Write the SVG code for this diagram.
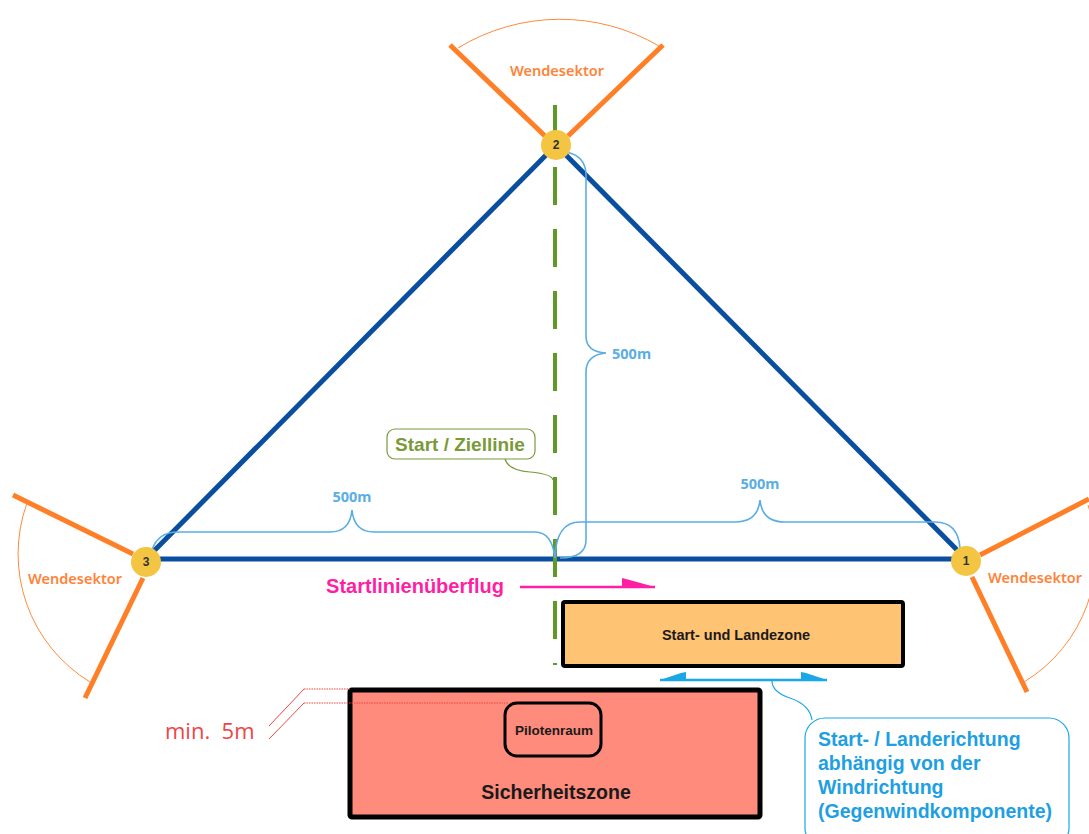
<svg xmlns="http://www.w3.org/2000/svg" width="1089" height="834" viewBox="0 0 1089 834">
<style>
.tri{stroke:#0a4ea0;stroke-width:5;fill:none;stroke-linecap:round}
.sec{stroke:#ff7f27;stroke-width:5;fill:none;stroke-linecap:butt}
.arc{stroke:#ff8a3d;stroke-width:1;fill:none}
.ws{font-family:"Noto Sans","DejaVu Sans",sans-serif;font-size:14.5px;font-weight:600;fill:#ff8338}
.dim{stroke:#5aaee3;stroke-width:1.6;fill:none}
.dimt{font-family:"Noto Sans","DejaVu Sans",sans-serif;font-size:14.5px;font-weight:700;fill:#5aaee3}
.node circle{fill:#f4c443}
.node text{font-family:"Liberation Sans",Arial,sans-serif;font-size:12px;font-weight:700;fill:#333;text-anchor:middle}
.lbl{font-family:"Liberation Sans",Arial,sans-serif;font-weight:700}
</style>

<g id="sectors">
  <line class="sec" x1="450" y1="45" x2="545" y2="136"/>
  <line class="sec" x1="663" y1="45" x2="568" y2="136"/>
  <path class="arc" d="M458,48 A196,196 0 0 1 659,46"/>
  <text class="ws" x="557" y="76" text-anchor="middle">Wendesektor</text>

  <line class="sec" x1="13" y1="495" x2="133" y2="554"/>
  <line class="sec" x1="143" y1="578" x2="85" y2="698"/>
  <path class="arc" d="M27,503 A150,150 0 0 0 90,682"/>
  <text class="ws" x="75" y="584" text-anchor="middle">Wendesektor</text>

  <line class="sec" x1="980" y1="555" x2="1089" y2="499"/>
  <line class="sec" x1="972" y1="577" x2="1027" y2="692"/>
  <path class="arc" d="M1088,505 A150,150 0 0 1 1024,682"/>
  <text class="ws" x="1035" y="583" text-anchor="middle">Wendesektor</text>
</g>

<g id="connectors">
  <line class="tri" x1="146" y1="559" x2="556" y2="145"/>
  <line class="tri" x1="556" y1="145" x2="966" y2="559"/>
  <line class="tri" x1="146" y1="559" x2="966" y2="559"/>
  <line x1="555" y1="105" x2="555" y2="665" stroke="#5f9a28" stroke-width="4" stroke-dasharray="38 24"/>
</g>

<g id="dimensions">
  <path class="dim" d="M152,550 Q158,532 178,532 L330,532 Q350,532 352,510 Q354,532 374,532 L535,532 Q552,532 555,558"/>
  <text class="dimt" x="352" y="502" text-anchor="middle">500m</text>
  <path class="dim" d="M555,558 Q556,522 580,522 L735,522 Q758,522 760,500 Q762,522 785,522 L935,522 Q958,522 960,548"/>
  <text class="dimt" x="760" y="489" text-anchor="middle">500m</text>
  <path class="dim" d="M566,152 Q586,156 586,175 L586,336 Q586,352 606,353 Q586,355 586,372 L586,540 Q586,558 560,558"/>
  <text class="dimt" x="612" y="359">500m</text>
</g>

<g id="node-2" class="node"><circle cx="556" cy="145" r="15"/><text x="556" y="149">2</text></g>
<g id="node-3" class="node"><circle cx="146" cy="562" r="15"/><text x="146" y="566">3</text></g>
<g id="node-1" class="node"><circle cx="966" cy="561" r="15"/><text x="966" y="565">1</text></g>

<g id="start-ziellinie">
  <rect x="387" y="429" width="148" height="30" rx="8" fill="#fff" stroke="#7a9a3a" stroke-width="1.2"/>
  <path d="M505,459 Q508,470 530,472 Q552,474 553,480" fill="none" stroke="#7a9a3a" stroke-width="1.2"/>
  <text class="lbl" x="460" y="451" font-size="19" fill="#7a9a3a" text-anchor="middle">Start / Ziellinie</text>
</g>

<g id="startlinienueberflug">
  <text class="lbl" x="415" y="593" font-size="20" fill="#ff1fa3" text-anchor="middle">Startlinienüberflug</text>
  <line x1="520" y1="587" x2="655" y2="587" stroke="#ff1fa3" stroke-width="2.5"/>
  <polygon points="622,578 626,579 655,587 622,587" fill="#ff1fa3"/>
</g>

<g id="start-landezone">
  <rect x="563" y="602" width="340" height="64" fill="#ffc374" stroke="#000" stroke-width="4" rx="2"/>
  <text class="lbl" x="736" y="640" font-size="14.5" fill="#1a1a1a" text-anchor="middle">Start- und Landezone</text>
</g>

<g id="landerichtung">
  <line x1="660" y1="680" x2="827" y2="680" stroke="#1aa7e8" stroke-width="2.5"/>
  <polygon points="660,680 681,673 686,672 686,680" fill="#1aa7e8"/>
  <polygon points="827,680 806,673 801,672 801,680" fill="#1aa7e8"/>
  <path d="M772,681 Q772,692 790,698 Q810,705 812,720" fill="none" stroke="#1aa7e8" stroke-width="1.2"/>
  <rect x="805" y="718" width="264" height="130" rx="20" fill="#fff" stroke="#1aa7e8" stroke-width="1.2"/>
  <text class="lbl" font-size="19.5" fill="#1f9fe3">
    <tspan x="818" y="746">Start- / Landerichtung</tspan>
    <tspan x="818" y="770">abhängig von der</tspan>
    <tspan x="818" y="794">Windrichtung</tspan>
    <tspan x="818" y="818">(Gegenwindkomponente)</tspan>
  </text>
</g>

<g id="sicherheitszone">
  <rect x="350" y="690" width="410" height="127" fill="#fe8b7b" stroke="#000" stroke-width="5" rx="2"/>
  <text class="lbl" x="556" y="799" font-size="19.5" fill="#1a1a1a" text-anchor="middle">Sicherheitszone</text>
</g>

<g id="pilotenraum">
  <rect x="505" y="703" width="96" height="53" rx="12" fill="none" stroke="#000" stroke-width="3"/>
  <text x="554" y="735" font-family="Liberation Sans, Arial, sans-serif" font-size="13.5" font-weight="700" fill="#1a1a1a" text-anchor="middle">Pilotenraum</text>
</g>

<g id="min-5m">
  <text x="165" y="739" font-family="'Open Sans','DejaVu Sans',sans-serif" font-size="22" fill="#f04545" xml:space="preserve">min.  5m</text>
  <path d="M269,726 L304,689" stroke="#f04545" stroke-width="1" fill="none"/>
  <path d="M269,739 L304,703" stroke="#f04545" stroke-width="1" fill="none"/>
  <line x1="304" y1="689" x2="350" y2="689" stroke="#f04545" stroke-width="1.2" stroke-dasharray="1.5 1"/>
  <line x1="304" y1="703" x2="509" y2="703" stroke="#f04545" stroke-width="1.2" stroke-dasharray="1.5 1"/>
</g>
</svg>
